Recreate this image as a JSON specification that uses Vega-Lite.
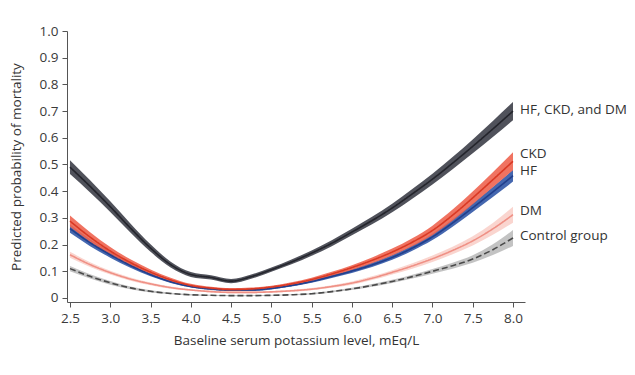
{
  "$schema": "https://vega.github.io/schema/vega-lite/v6.json",
  "width": 458,
  "height": 271,
  "autosize": {"type": "none"},
  "padding": {"left": 67, "top": 31, "right": 110, "bottom": 73},
  "background": "white",
  "resolve": {"scale": {"color": "independent", "strokeDash": "independent"}},
  "config": {
    "font": "Open Sans",
    "view": {"stroke": null},
    "axis": {"grid": false, "domainColor": "#555", "tickColor": "#555", "tickSize": 5, "labelColor": "#3a3a3a", "labelFontSize": 13.5, "labelFont": "Open Sans", "titleFont": "Open Sans", "titleFontSize": 13.5, "titleFontWeight": "normal", "titleColor": "#333", "labelPadding": 4, "labelOverlap": false, "labelFlush": false}
  },
  "datasets": {
    "curves": [
      {"g":"Control group","k":2.5,"p":0.11,"lo":0.1,"hi":0.12},
      {"g":"Control group","k":2.75,"p":0.081,"lo":0.073,"hi":0.089},
      {"g":"Control group","k":3.0,"p":0.057,"lo":0.05,"hi":0.064},
      {"g":"Control group","k":3.25,"p":0.038,"lo":0.033,"hi":0.043},
      {"g":"Control group","k":3.5,"p":0.025,"lo":0.021,"hi":0.029},
      {"g":"Control group","k":3.75,"p":0.017,"lo":0.014,"hi":0.02},
      {"g":"Control group","k":4.0,"p":0.012,"lo":0.009,"hi":0.015},
      {"g":"Control group","k":4.25,"p":0.01,"lo":0.008,"hi":0.012},
      {"g":"Control group","k":4.5,"p":0.009,"lo":0.007,"hi":0.011},
      {"g":"Control group","k":4.75,"p":0.009,"lo":0.007,"hi":0.011},
      {"g":"Control group","k":5.0,"p":0.01,"lo":0.008,"hi":0.012},
      {"g":"Control group","k":5.25,"p":0.012,"lo":0.01,"hi":0.014},
      {"g":"Control group","k":5.5,"p":0.016,"lo":0.013,"hi":0.019},
      {"g":"Control group","k":5.75,"p":0.024,"lo":0.021,"hi":0.027},
      {"g":"Control group","k":6.0,"p":0.034,"lo":0.03,"hi":0.038},
      {"g":"Control group","k":6.25,"p":0.047,"lo":0.042,"hi":0.052},
      {"g":"Control group","k":6.5,"p":0.062,"lo":0.056,"hi":0.068},
      {"g":"Control group","k":6.75,"p":0.08,"lo":0.073,"hi":0.087},
      {"g":"Control group","k":7.0,"p":0.1,"lo":0.091,"hi":0.109},
      {"g":"Control group","k":7.25,"p":0.121,"lo":0.11,"hi":0.132},
      {"g":"Control group","k":7.5,"p":0.146,"lo":0.132,"hi":0.16},
      {"g":"Control group","k":7.75,"p":0.181,"lo":0.161,"hi":0.201},
      {"g":"Control group","k":8.0,"p":0.225,"lo":0.195,"hi":0.255},

      {"g":"DM","k":2.5,"p":0.162,"lo":0.151,"hi":0.173},
      {"g":"DM","k":2.75,"p":0.125,"lo":0.116,"hi":0.134},
      {"g":"DM","k":3.0,"p":0.095,"lo":0.088,"hi":0.102},
      {"g":"DM","k":3.25,"p":0.071,"lo":0.065,"hi":0.077},
      {"g":"DM","k":3.5,"p":0.053,"lo":0.048,"hi":0.058},
      {"g":"DM","k":3.75,"p":0.039,"lo":0.035,"hi":0.043},
      {"g":"DM","k":4.0,"p":0.03,"lo":0.027,"hi":0.033},
      {"g":"DM","k":4.25,"p":0.024,"lo":0.021,"hi":0.027},
      {"g":"DM","k":4.5,"p":0.021,"lo":0.018,"hi":0.024},
      {"g":"DM","k":4.75,"p":0.021,"lo":0.018,"hi":0.024},
      {"g":"DM","k":5.0,"p":0.023,"lo":0.02,"hi":0.026},
      {"g":"DM","k":5.25,"p":0.027,"lo":0.023,"hi":0.031},
      {"g":"DM","k":5.5,"p":0.033,"lo":0.029,"hi":0.037},
      {"g":"DM","k":5.75,"p":0.043,"lo":0.038,"hi":0.048},
      {"g":"DM","k":6.0,"p":0.056,"lo":0.05,"hi":0.062},
      {"g":"DM","k":6.25,"p":0.074,"lo":0.067,"hi":0.081},
      {"g":"DM","k":6.5,"p":0.096,"lo":0.088,"hi":0.104},
      {"g":"DM","k":6.75,"p":0.12,"lo":0.11,"hi":0.13},
      {"g":"DM","k":7.0,"p":0.147,"lo":0.135,"hi":0.159},
      {"g":"DM","k":7.25,"p":0.178,"lo":0.164,"hi":0.192},
      {"g":"DM","k":7.5,"p":0.214,"lo":0.197,"hi":0.231},
      {"g":"DM","k":7.75,"p":0.259,"lo":0.237,"hi":0.281},
      {"g":"DM","k":8.0,"p":0.312,"lo":0.282,"hi":0.342},

      {"g":"HF","k":2.5,"p":0.26,"lo":0.244,"hi":0.276},
      {"g":"HF","k":2.75,"p":0.207,"lo":0.194,"hi":0.22},
      {"g":"HF","k":3.0,"p":0.162,"lo":0.151,"hi":0.173},
      {"g":"HF","k":3.25,"p":0.122,"lo":0.113,"hi":0.131},
      {"g":"HF","k":3.5,"p":0.088,"lo":0.081,"hi":0.095},
      {"g":"HF","k":3.75,"p":0.061,"lo":0.056,"hi":0.066},
      {"g":"HF","k":4.0,"p":0.043,"lo":0.039,"hi":0.047},
      {"g":"HF","k":4.25,"p":0.034,"lo":0.03,"hi":0.038},
      {"g":"HF","k":4.5,"p":0.03,"lo":0.026,"hi":0.034},
      {"g":"HF","k":4.75,"p":0.03,"lo":0.026,"hi":0.034},
      {"g":"HF","k":5.0,"p":0.036,"lo":0.032,"hi":0.04},
      {"g":"HF","k":5.25,"p":0.047,"lo":0.043,"hi":0.051},
      {"g":"HF","k":5.5,"p":0.062,"lo":0.057,"hi":0.067},
      {"g":"HF","k":5.75,"p":0.081,"lo":0.075,"hi":0.087},
      {"g":"HF","k":6.0,"p":0.101,"lo":0.094,"hi":0.108},
      {"g":"HF","k":6.25,"p":0.124,"lo":0.116,"hi":0.132},
      {"g":"HF","k":6.5,"p":0.152,"lo":0.143,"hi":0.161},
      {"g":"HF","k":6.75,"p":0.187,"lo":0.177,"hi":0.197},
      {"g":"HF","k":7.0,"p":0.229,"lo":0.217,"hi":0.241},
      {"g":"HF","k":7.25,"p":0.281,"lo":0.267,"hi":0.295},
      {"g":"HF","k":7.5,"p":0.338,"lo":0.322,"hi":0.354},
      {"g":"HF","k":7.75,"p":0.397,"lo":0.378,"hi":0.416},
      {"g":"HF","k":8.0,"p":0.458,"lo":0.436,"hi":0.48},

      {"g":"CKD","k":2.5,"p":0.288,"lo":0.267,"hi":0.309},
      {"g":"CKD","k":2.75,"p":0.228,"lo":0.21,"hi":0.246},
      {"g":"CKD","k":3.0,"p":0.176,"lo":0.161,"hi":0.191},
      {"g":"CKD","k":3.25,"p":0.133,"lo":0.121,"hi":0.145},
      {"g":"CKD","k":3.5,"p":0.097,"lo":0.087,"hi":0.107},
      {"g":"CKD","k":3.75,"p":0.068,"lo":0.06,"hi":0.076},
      {"g":"CKD","k":4.0,"p":0.047,"lo":0.041,"hi":0.053},
      {"g":"CKD","k":4.25,"p":0.037,"lo":0.032,"hi":0.042},
      {"g":"CKD","k":4.5,"p":0.032,"lo":0.027,"hi":0.037},
      {"g":"CKD","k":4.75,"p":0.034,"lo":0.029,"hi":0.039},
      {"g":"CKD","k":5.0,"p":0.041,"lo":0.036,"hi":0.046},
      {"g":"CKD","k":5.25,"p":0.053,"lo":0.047,"hi":0.059},
      {"g":"CKD","k":5.5,"p":0.069,"lo":0.062,"hi":0.076},
      {"g":"CKD","k":5.75,"p":0.09,"lo":0.082,"hi":0.098},
      {"g":"CKD","k":6.0,"p":0.114,"lo":0.105,"hi":0.123},
      {"g":"CKD","k":6.25,"p":0.141,"lo":0.13,"hi":0.152},
      {"g":"CKD","k":6.5,"p":0.172,"lo":0.159,"hi":0.185},
      {"g":"CKD","k":6.75,"p":0.209,"lo":0.194,"hi":0.224},
      {"g":"CKD","k":7.0,"p":0.253,"lo":0.235,"hi":0.271},
      {"g":"CKD","k":7.25,"p":0.31,"lo":0.289,"hi":0.331},
      {"g":"CKD","k":7.5,"p":0.375,"lo":0.351,"hi":0.399},
      {"g":"CKD","k":7.75,"p":0.443,"lo":0.415,"hi":0.471},
      {"g":"CKD","k":8.0,"p":0.512,"lo":0.478,"hi":0.546},

      {"g":"HF, CKD, and DM","k":2.5,"p":0.49,"lo":0.464,"hi":0.516},
      {"g":"HF, CKD, and DM","k":2.75,"p":0.418,"lo":0.395,"hi":0.441},
      {"g":"HF, CKD, and DM","k":3.0,"p":0.342,"lo":0.322,"hi":0.362},
      {"g":"HF, CKD, and DM","k":3.25,"p":0.262,"lo":0.245,"hi":0.279},
      {"g":"HF, CKD, and DM","k":3.5,"p":0.187,"lo":0.173,"hi":0.201},
      {"g":"HF, CKD, and DM","k":3.75,"p":0.125,"lo":0.114,"hi":0.136},
      {"g":"HF, CKD, and DM","k":4.0,"p":0.088,"lo":0.079,"hi":0.097},
      {"g":"HF, CKD, and DM","k":4.25,"p":0.077,"lo":0.069,"hi":0.085},
      {"g":"HF, CKD, and DM","k":4.5,"p":0.063,"lo":0.055,"hi":0.071},
      {"g":"HF, CKD, and DM","k":4.75,"p":0.08,"lo":0.072,"hi":0.088},
      {"g":"HF, CKD, and DM","k":5.0,"p":0.106,"lo":0.098,"hi":0.114},
      {"g":"HF, CKD, and DM","k":5.25,"p":0.135,"lo":0.126,"hi":0.144},
      {"g":"HF, CKD, and DM","k":5.5,"p":0.168,"lo":0.158,"hi":0.178},
      {"g":"HF, CKD, and DM","k":5.75,"p":0.205,"lo":0.194,"hi":0.216},
      {"g":"HF, CKD, and DM","k":6.0,"p":0.247,"lo":0.235,"hi":0.259},
      {"g":"HF, CKD, and DM","k":6.25,"p":0.29,"lo":0.276,"hi":0.304},
      {"g":"HF, CKD, and DM","k":6.5,"p":0.337,"lo":0.321,"hi":0.353},
      {"g":"HF, CKD, and DM","k":6.75,"p":0.39,"lo":0.372,"hi":0.408},
      {"g":"HF, CKD, and DM","k":7.0,"p":0.445,"lo":0.425,"hi":0.465},
      {"g":"HF, CKD, and DM","k":7.25,"p":0.505,"lo":0.482,"hi":0.528},
      {"g":"HF, CKD, and DM","k":7.5,"p":0.568,"lo":0.542,"hi":0.594},
      {"g":"HF, CKD, and DM","k":7.75,"p":0.633,"lo":0.603,"hi":0.663},
      {"g":"HF, CKD, and DM","k":8.0,"p":0.7,"lo":0.666,"hi":0.734}
    ],
    "labels": [
      {"g":"HF, CKD, and DM","k":8.0,"p":0.705},
      {"g":"CKD","k":8.0,"p":0.538},
      {"g":"HF","k":8.0,"p":0.474},
      {"g":"DM","k":8.0,"p":0.324},
      {"g":"Control group","k":8.0,"p":0.234}
    ]
  },
  "layer": [
    {
      "data": {"name": "curves"},
      "mark": {"type": "area", "interpolate": "monotone", "opacity": 0.9},
      "encoding": {
        "x": {"field": "k", "type": "quantitative", "scale": {"domain": [2.463, 8.149], "nice": false, "zero": false},
              "axis": {"values": [2.5,3.0,3.5,4.0,4.5,5.0,5.5,6.0,6.5,7.0,7.5,8.0], "format": ".1f", "title": "Baseline serum potassium level, mEq/L", "titlePadding": 9}},
        "y": {"field": "lo", "type": "quantitative", "scale": {"domain": [-0.015, 1.0], "nice": false, "zero": false},
              "axis": {"values": [0,0.1,0.2,0.3,0.4,0.5,0.6,0.7,0.8,0.9,1.0], "labelExpr": "datum.value == 0 ? '0' : format(datum.value, '.1f')", "title": "Predicted probability of mortality", "titlePadding": 16}},
        "y2": {"field": "hi"},
        "color": {"field": "g", "type": "nominal", "legend": null,
                  "scale": {"domain": ["Control group","DM","HF","CKD","HF, CKD, and DM"], "range": ["#bdbdbd","#fad0ca","#3157a6","#ee6450","#3d3f49"]}}
      }
    },
    {
      "data": {"name": "curves"},
      "mark": {"type": "line", "interpolate": "monotone", "strokeWidth": 1.6},
      "encoding": {
        "x": {"field": "k", "type": "quantitative",
              "axis": {"values": [2.5,3.0,3.5,4.0,4.5,5.0,5.5,6.0,6.5,7.0,7.5,8.0], "format": ".1f", "title": "Baseline serum potassium level, mEq/L", "titlePadding": 9}},
        "y": {"field": "p", "type": "quantitative",
              "axis": {"values": [0,0.1,0.2,0.3,0.4,0.5,0.6,0.7,0.8,0.9,1.0], "labelExpr": "datum.value == 0 ? '0' : format(datum.value, '.1f')", "title": "Predicted probability of mortality", "titlePadding": 16}},
        "color": {"field": "g", "type": "nominal", "legend": null,
                  "scale": {"domain": ["Control group","DM","HF","CKD","HF, CKD, and DM"], "range": ["#4a4a4a","#ef9085","#213f8c","#d93924","#24252c"]}},
        "strokeDash": {"field": "g", "type": "nominal", "legend": null,
                  "scale": {"domain": ["Control group","DM","HF","CKD","HF, CKD, and DM"], "range": [[6,3],[1,0],[1,0],[1,0],[1,0]]}}
      }
    },
    {
      "data": {"name": "labels"},
      "mark": {"type": "text", "align": "left", "baseline": "middle", "dx": 7, "fontSize": 13.5, "color": "#333", "font": "Open Sans"},
      "encoding": {
        "x": {"field": "k", "type": "quantitative",
              "axis": {"values": [2.5,3.0,3.5,4.0,4.5,5.0,5.5,6.0,6.5,7.0,7.5,8.0], "format": ".1f", "title": "Baseline serum potassium level, mEq/L", "titlePadding": 9}},
        "y": {"field": "p", "type": "quantitative",
              "axis": {"values": [0,0.1,0.2,0.3,0.4,0.5,0.6,0.7,0.8,0.9,1.0], "labelExpr": "datum.value == 0 ? '0' : format(datum.value, '.1f')", "title": "Predicted probability of mortality", "titlePadding": 16}},
        "text": {"field": "g"}
      }
    }
  ]
}
